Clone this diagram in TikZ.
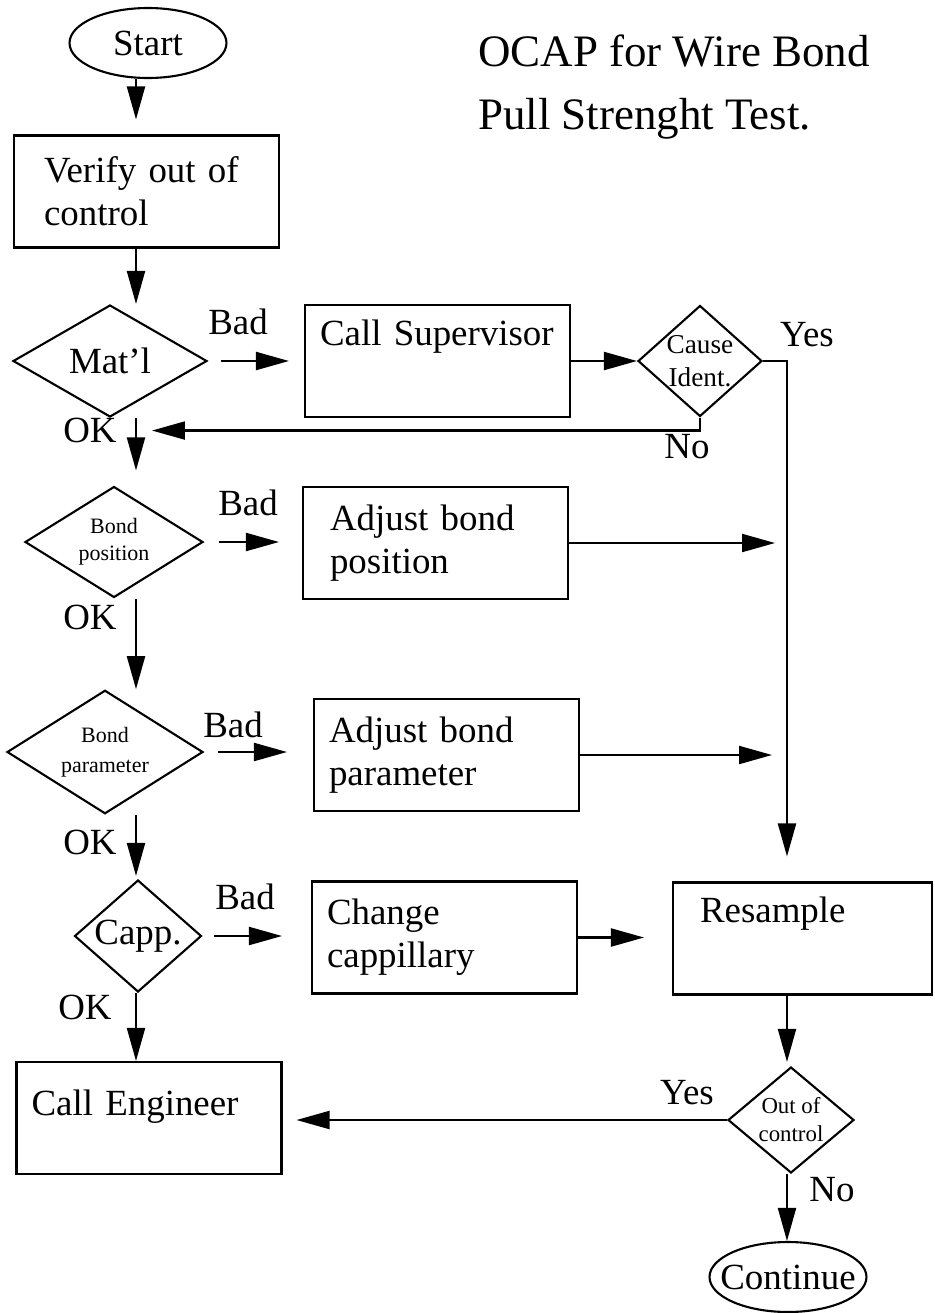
\documentclass[tikz,border=0pt]{standalone}
\usepackage{fontspec}
\setmainfont{Liberation Serif}
\usetikzlibrary{shapes.geometric,arrows.meta,calc}

\begin{document}
\begin{tikzpicture}[x=0.02cm, y=-0.02cm, line width=1.2pt,
	every node/.style={font=\fontsize{21}{24.4}\selectfont},
	procbox/.style={draw, rectangle, minimum width=5.3cm, minimum height=2.24cm, inner xsep=0.3cm, text width=4.7cm, align=left},
	decide/.style={draw, diamond, inner sep=-2pt, align=center},
	termin/.style={draw, ellipse, minimum width=3.14cm, minimum height=1.4cm, inner xsep=-0.3cm, inner ysep=0pt},
	lbl/.style={inner sep=0pt},
	arr/.style={-{Triangle[length=0.66cm, width=0.36cm]}}]
	\useasboundingbox (0,0) rectangle (935,1313);

	\node[anchor=north west, inner sep=0pt, align=left, font=\fontsize{25.6}{35.7}\selectfont] (title) at (477,34) {OCAP for Wire Bond\\Pull Strenght Test.};

	\node[termin] (start) at (148,43) {Start};
	\node[procbox, text width=4.1cm] (verify) at (146.5,191.5) {Verify out of\\control};
	\node[decide, minimum width=3.88cm, minimum height=2.24cm] (matl) at (110,361) {Mat’l};
	\node[procbox, text height=0.5cm, text depth=1.14cm] (super) at (437.5,361) {Call Supervisor};
	\node[decide, minimum width=2.48cm, minimum height=2.22cm, font=\fontsize{15.5}{18.7}\selectfont] (cause) at (700,361) {Cause\\Ident.};
	\node[decide, minimum width=3.56cm, minimum height=2.22cm, font=\fontsize{12.5}{15.3}\selectfont] (bondpos) at (114,542) {Bond\\position};
	\node[procbox, text width=4.22cm] (adjpos) at (435.5,543) {Adjust bond\\position};
	\node[decide, minimum width=3.92cm, minimum height=2.22cm, font=\fontsize{12.5}{17}\selectfont] (bondpar) at (105,752) {Bond\\parameter};
	\node[procbox] (adjpar) at (446.5,755) {Adjust bond\\parameter};
	\node[decide, minimum width=2.54cm, minimum height=2.24cm] (capp) at (138,936) {Capp.};
	\node[procbox] (change) at (444.5,937.5) {Change\\cappillary};
	\node[procbox, minimum width=5.18cm, text width=4.1cm, text height=0.5cm, text depth=1.14cm] (resample) at (802.5,938.5) {Resample};
	\node[procbox, text height=0.5cm, text depth=0.62cm] (engineer) at (149,1118) {Call Engineer};
	\node[decide, minimum width=2.52cm, minimum height=2.12cm, font=\fontsize{13}{16}\selectfont] (outctl) at (791,1120) {Out of\\control};
	\node[termin] (cont) at (788,1277) {Continue};

	\coordinate (spine) at (136,0);
	\coordinate (yescol) at (787,0);
	\coordinate (noturn) at ($(cause.south)+(0,13)$);

	\draw[arr, shorten >=0.3cm] (start.south -| spine) -- (verify.north -| spine);
	\draw[arr] (verify.south -| spine) -- (matl.north -| spine);
	\draw[arr, shorten >=0.3cm] (matl.south -| spine) -- (bondpos.north -| spine);
	\draw[arr] (bondpos.south -| spine) -- (bondpar.north -| spine);
	\draw[arr, shorten >=0.06cm] (bondpar.south -| spine) -- (capp.north -| spine);
	\draw[arr] (capp.south -| spine) -- (engineer.north -| spine);

	\draw[arr, shorten <=0.26cm, shorten >=0.3cm] (matl.east) -- (matl.east -| super.west);
	\draw[arr] (super.east) -- (cause.west);
	\draw[arr, shorten >=0.5cm] (cause.east) -| (resample.north -| yescol);
	\draw[arr, shorten >=0.32cm] (cause.south) -- (noturn) -- (noturn -| spine);
	\draw[arr, shorten <=0.3cm, shorten >=0.46cm] (bondpos.east) -- (bondpos.east -| adjpos.west);
	\draw[arr, shorten >=0.24cm] (adjpos.east) -- (adjpos.east -| yescol);
	\draw[arr, shorten <=0.28cm, shorten >=0.52cm] (bondpar.east) -- (bondpar.east -| adjpar.west);
	\draw[arr, shorten >=0.3cm] (adjpar.east) -- (adjpar.east -| yescol);
	\draw[arr, shorten <=0.22cm, shorten >=0.58cm] (capp.east) -- (capp.east -| change.west);
	\draw[arr, shorten >=0.56cm] (change.east) -- (change.east -| resample.west);
	\draw[arr, shorten >=0.08cm] (resample.south -| yescol) -- (outctl.north -| yescol);
	\draw[arr, shorten >=0.28cm] (outctl.west) -- (outctl.west -| engineer.east);
	\draw[arr] (outctl.south -| yescol) -- (cont.north -| yescol);

	\foreach \x/\y/\t [count=\i] in {238/322/Bad, 248/503/Bad, 233/725/Bad, 245/897/Bad, 90/430/OK, 90/617/OK, 90/842/OK, 85/1007/OK, 807/335/Yes, 687/447/No, 687/1093/Yes, 832/1190/No}
		\node[lbl] (tag\i) at (\x,\y) {\t};

\end{tikzpicture}
\end{document}
